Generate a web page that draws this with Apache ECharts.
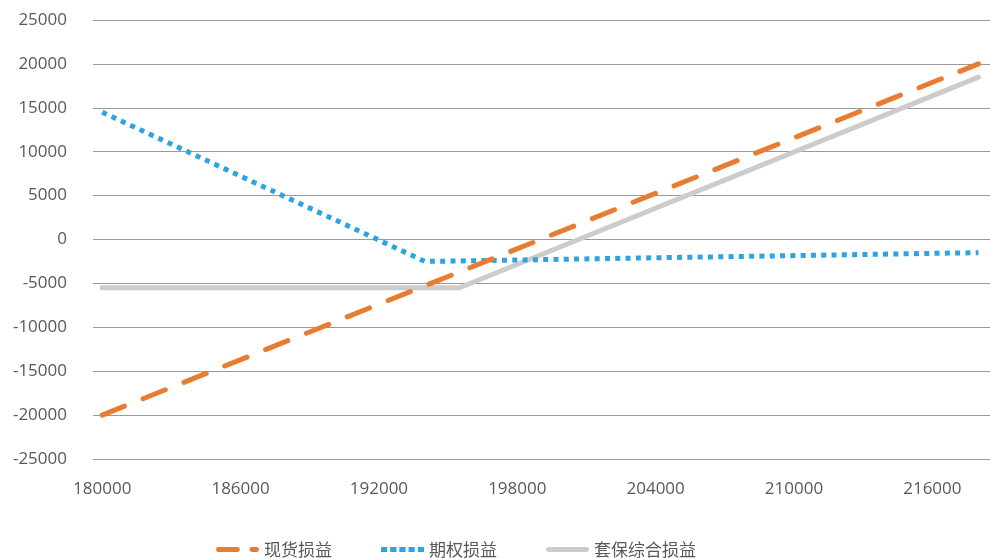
<!DOCTYPE html>
<html>
<head>
<meta charset="utf-8">
<script src="https://cdn.jsdelivr.net/npm/echarts@6/dist/echarts.min.js"></script>
<style>
html,body{margin:0;padding:0;background:#fff;}
#c{width:990px;height:558px;}
</style>
</head>
<body>
<div id="c"></div>
<script>
// x tick labels
const xTicks = [180000, 186000, 192000, 198000, 204000, 210000, 216000];
// 现货损益 (spot P&L)
const spotX = [180000, 218000];
const spotY = [-20000, 20000];
// 期权损益 (option P&L)
const optionX = [180000, 194000, 218000];
const optionY = [14500, -2500, -1500];
// 套保综合损益 (combined hedge P&L)
const hedgeX = [180000, 195500, 218000];
const hedgeY = [-5500, -5500, 18500];
const seriesNames = ['现货损益', '期权损益', '套保综合损益'];

function pairs(xs, ys) { return xs.map((x, i) => [x, ys[i]]); }

// legend sample icons (shapes only)
const iconDash = 'path://M2.5,0L22.5,0Q25,0 25,2.5Q25,5 22.5,5L2.5,5Q0,5 0,2.5Q0,0 2.5,0Z' +
                 'M37.5,0L42.5,0Q45,0 45,2.5Q45,5 42.5,5L37.5,5Q35,5 35,2.5Q35,0 37.5,0Z';
const iconDot = 'path://M0,0L6.5,0L6.5,5L0,5Z M9.6,0L16.1,0L16.1,5L9.6,5Z M19.2,0L25.7,0L25.7,5L19.2,5Z M28.8,0L35.3,0L35.3,5L28.8,5Z M38.5,0L45,0L45,5L38.5,5Z';
const iconSolid = 'path://M2.5,0L42.5,0Q45,0 45,2.5Q45,5 42.5,5L2.5,5Q0,5 0,2.5Q0,0 2.5,0Z';

const chart = echarts.init(document.getElementById('c'), null, {renderer: 'canvas'});
const labelFont = '"Open Sans", "Noto Sans CJK SC", sans-serif';
const plain = v => String(v);
chart.setOption({
  animation: false,
  backgroundColor: '#ffffff',
  grid: {left: 93, right: 0, top: 20, bottom: 99, containLabel: false},
  xAxis: {
    type: 'value',
    min: 179600,
    max: 218500,
    axisLine: {show: false},
    axisTick: {show: false},
    splitLine: {show: false},
    axisLabel: {
      customValues: xTicks,
      formatter: plain,
      margin: 22,
      color: '#595959',
      fontSize: 17,
      fontFamily: labelFont
    }
  },
  yAxis: {
    type: 'value',
    min: -25000,
    max: 25000,
    interval: 5000,
    axisLine: {show: false},
    axisTick: {show: false},
    axisLabel: {formatter: plain, margin: 26, color: '#595959', fontSize: 17, fontFamily: labelFont},
    splitLine: {lineStyle: {color: '#9a9a9a', width: 1}}
  },
  legend: {
    left: 211,
    top: 536,
    itemWidth: 43,
    itemHeight: 5,
    itemGap: 49,
    textStyle: {color: '#595959', fontSize: 17, fontFamily: '"Noto Sans CJK SC", sans-serif'},
    data: [
      {name: seriesNames[0], icon: iconDash},
      {name: seriesNames[1], icon: iconDot},
      {name: seriesNames[2], icon: iconSolid}
    ]
  },
  series: [
    {
      name: seriesNames[0], type: 'line', symbol: 'none', z: 3,
      data: pairs(spotX, spotY),
      lineStyle: {color: '#E97C30', width: 5, type: [24, 20], cap: 'round'},
      itemStyle: {color: '#E97C30'}
    },
    {
      name: seriesNames[1], type: 'line', symbol: 'none', z: 2,
      data: pairs(optionX, optionY),
      lineStyle: {color: '#2BA4E0', width: 5, type: [5, 5.3], cap: 'butt'},
      itemStyle: {color: '#2BA4E0'}
    },
    {
      name: seriesNames[2], type: 'line', symbol: 'none', z: 1,
      data: pairs(hedgeX, hedgeY),
      lineStyle: {color: '#CCCCCC', width: 5, type: 'solid', cap: 'round'},
      itemStyle: {color: '#CCCCCC'}
    }
  ]
});
</script>
</body>
</html>
